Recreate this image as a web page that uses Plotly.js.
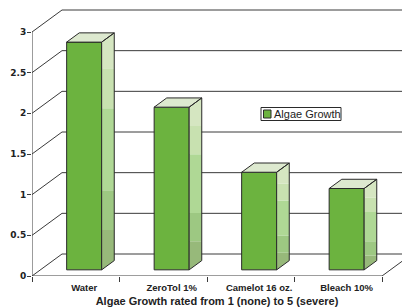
<!DOCTYPE html>
<html>
<head>
<meta charset="utf-8">
<script src="https://cdn.plot.ly/plotly-3.0.1.min.js"></script>
<style>html,body{margin:0;padding:0;background:#fff;}#chart{width:402px;height:307px;}</style>
</head>
<body>
<div id="chart"></div>
<script>
// ---- data ----
const categories = ['Water', 'ZeroTol 1%', 'Camelot 16 oz.', 'Bleach 10%'];
const growth = [2.8, 2.0, 1.2, 1.0];
const seriesName = 'Algae Growth';
const yTickVals = [0, 0.5, 1, 1.5, 2, 2.5, 3];
const yTickText = ['0', '0.5', '1', '1.5', '2', '2.5', '3'];
const xTitle = 'Algae Growth rated from 1 (none) to 5 (severe)';

// ---- geometry (pseudo-3D projection) ----
const W = 402, H = 307;
const M = {l: 32, r: 0, t: 6, b: 31};
const plotW = W - M.l - M.r, plotH = H - M.t - M.b;
const pxPerX = 87.5, pxPerY = 244 / 3;
const xRange = [-0.5, -0.5 + plotW / pxPerX];
const yRange = [0, plotH / pxPerY];
const DX = 30 / pxPerX, DY = 22 / pxPerY;   // full depth of floor / walls
const t0 = 0.28, t1 = 0.70, half = 0.2;     // bar depth span and half-width
const xLo = -0.5, xHi = categories.length - 0.5;

const frontColor = '#6cb33f', topColor = '#dde9cf', edge = '#2a2a2a', gridC = '#3a3a3a';
const bandEdges = [0, 0.175, 0.35, 0.71, 0.885, 1];
const bandColors = ['#97b97a', '#9dc882', '#afd895', '#c8e1b0', '#d5e6c1'];

const traces = [];
const shapes = [];

// back wall gridlines (behind bars)
yTickVals.forEach(v => {
  shapes.push({type: 'line', xref: 'x', yref: 'y', layer: 'below',
    x0: xLo + DX, y0: v + DY, x1: xHi + DX, y1: v + DY,
    line: {color: gridC, width: 1}});
});

// left wall diagonals + front vertical edge + floor
const fx = [], fy = [];
yTickVals.forEach(v => { fx.push(xLo, xLo + DX, null); fy.push(v, v + DY, null); });
fx.push(xLo, xLo, null); fy.push(0, yTickVals[yTickVals.length - 1], null);
fx.push(xLo, xHi, xHi + DX, null); fy.push(0, 0, DY, null);
traces.push({type: 'scatter', mode: 'lines', x: fx, y: fy, cliponaxis: false,
  line: {color: gridC, width: 1}, hoverinfo: 'skip', showlegend: false});

// bar front faces
const barX = categories.map((c, i) => i + t0 * DX);
const base = t0 * DY;
traces.push({type: 'bar', name: seriesName, x: barX, y: growth,
  base: growth.map(() => base), width: growth.map(() => 2 * half),
  marker: {color: frontColor, line: {color: edge, width: 1}}, showlegend: false,
  hovertext: categories, hoverinfo: 'text+y'});

// side faces (banded)
const dX = (t1 - t0) * DX, dY = (t1 - t0) * DY;
bandEdges.slice(0, -1).forEach((f0, k) => {
  const f1 = bandEdges[k + 1];
  const xs = [], ys = [];
  growth.forEach((v, i) => {
    const xr = barX[i] + half;
    const lo = base + f0 * v, hi = base + f1 * v;
    const loR = k === 0 ? base + dY : lo;
    const hiR = k === bandEdges.length - 2 ? base + v + dY : hi;
    xs.push(xr, xr, xr + dX, xr + dX, xr, null);
    ys.push(lo, hi, hiR, loR, lo, null);
  });
  traces.push({type: 'scatter', mode: 'lines', x: xs, y: ys, fill: 'toself',
    fillcolor: bandColors[k], line: {width: 0}, hoverinfo: 'skip', showlegend: false});
});

// top faces
const tx = [], ty = [];
growth.forEach((v, i) => {
  const xl = barX[i] - half, xr = barX[i] + half, yt = base + v;
  tx.push(xl, xr, xr + dX, xl + dX, xl, null);
  ty.push(yt, yt, yt + dY, yt + dY, yt, null);
});
traces.push({type: 'scatter', mode: 'lines', x: tx, y: ty, fill: 'toself',
  fillcolor: topColor, line: {color: edge, width: 1}, hoverinfo: 'skip', showlegend: false});

// side face outlines
const sx = [], sy = [];
growth.forEach((v, i) => {
  const xr = barX[i] + half;
  sx.push(xr, xr, xr + dX, xr + dX, xr, null);
  sy.push(base, base + v, base + v + dY, base + dY, base, null);
});
traces.push({type: 'scatter', mode: 'lines', x: sx, y: sy,
  line: {color: edge, width: 1}, hoverinfo: 'skip', showlegend: false});

// legend (drawn box)
const px2x = px => (px - M.l) / plotW;
const py2y = py => (H - M.b - py) / plotH;
shapes.push({type: 'rect', xref: 'paper', yref: 'paper', layer: 'above',
  x0: px2x(261), x1: px2x(341), y0: py2y(120.5), y1: py2y(107.5),
  fillcolor: '#ffffff', line: {color: edge, width: 1}});
shapes.push({type: 'rect', xref: 'paper', yref: 'paper', layer: 'above',
  x0: px2x(263.5), x1: px2x(271), y0: py2y(118), y1: py2y(110),
  fillcolor: frontColor, line: {color: edge, width: 1}});

const layout = {
  width: W, height: H, margin: M,
  paper_bgcolor: '#ffffff', plot_bgcolor: 'rgba(0,0,0,0)',
  showlegend: false,
  bargap: 0,
  xaxis: {type: 'linear', range: xRange, fixedrange: true,
    showgrid: false, zeroline: false, showline: false,
    tickmode: 'array', tickvals: barX, ticktext: categories,
    ticks: 'outside', ticklen: 0, tickcolor: gridC, ticklabelstandoff: 3,
    tickfont: {family: 'Liberation Sans, Arial, sans-serif', size: 9.5, color: '#222', weight: 'bold'},
    minor: {tickvals: categories.map((c, i) => i - 0.5).concat([xHi]), ticks: 'outside', ticklen: 5, tickcolor: gridC, tickwidth: 1, showgrid: false},
    title: {text: xTitle, standoff: 4,
      font: {family: 'Liberation Sans, Arial, sans-serif', size: 11, color: '#222', weight: 'bold'}}},
  yaxis: {range: yRange, fixedrange: true,
    showgrid: false, zeroline: false, showline: false,
    tickmode: 'array', tickvals: yTickVals, ticktext: yTickText,
    ticks: 'outside', ticklen: 4, tickcolor: gridC, tickwidth: 1, ticklabelstandoff: -1,
    tickfont: {family: 'DejaVu Sans, sans-serif', size: 9, color: '#222', weight: 'bold'}},
  shapes: shapes,
  annotations: [{xref: 'paper', yref: 'paper', x: px2x(272), y: py2y(114),
    xanchor: 'left', yanchor: 'middle', showarrow: false, text: seriesName,
    font: {family: 'Liberation Sans, Arial, sans-serif', size: 11, color: '#222'}}]
};

Plotly.newPlot('chart', traces, layout, {staticPlot: true, displayModeBar: false});
</script>
</body>
</html>
